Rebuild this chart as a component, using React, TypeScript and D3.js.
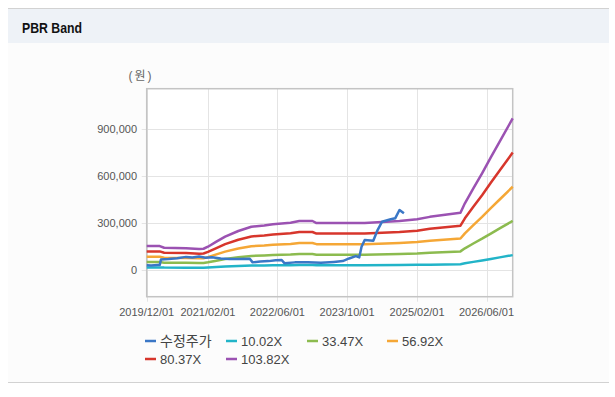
import React, { useEffect, useRef } from 'react';
import * as d3 from 'd3';

// band dates (BPS change points) and band values per multiple
const bandDates = [
  '2019-12-01', '2020-03-01', '2020-04-01', '2020-09-01', '2020-12-01', '2021-01-01',
  '2021-02-01', '2021-04-01', '2021-06-01', '2021-09-01', '2021-12-01', '2022-03-01',
  '2022-05-01', '2022-09-01', '2022-11-01', '2023-02-01', '2023-03-01', '2024-02-01',
  '2024-10-01', '2025-02-01', '2025-05-01', '2025-12-01', '2026-01-01', '2026-03-01',
  '2026-05-01', '2026-07-01', '2026-09-01', '2026-12-01'
];
const band10 = [
  14600, 14600, 13500, 13200, 12800, 12900, 14200, 17300, 20300, 23800, 26500, 27300,
  28000, 29000, 30000, 30000, 28800, 28800, 30000, 31100, 32600, 35100, 40900, 50100,
  59300, 69100, 78900, 93200
];
const band33 = [
  48700, 48700, 45200, 44200, 42700, 43200, 47400, 57700, 67900, 79700, 88400, 91000,
  93500, 96700, 100200, 100200, 96100, 96100, 100200, 103800, 108800, 117100, 136600, 167400,
  198100, 230900, 263400, 311300
];
const band56 = [
  82800, 82800, 76800, 75100, 72600, 73400, 80500, 98200, 115500, 135500, 150300, 154800,
  159100, 164500, 170500, 170500, 163400, 163400, 170500, 176500, 185000, 199200, 232200, 284600,
  337000, 392700, 448000, 529400
];
const band80 = [
  116900, 116900, 108500, 106100, 102500, 103700, 113700, 138600, 163200, 191300, 212200, 218600,
  224600, 232300, 240700, 240700, 230700, 230700, 240700, 249100, 261200, 281300, 327900, 401900,
  475800, 554600, 632500, 747400
];
const band103 = [
  151100, 151100, 140200, 137000, 132400, 133900, 146900, 179100, 210800, 247100, 274100, 282400,
  290200, 300000, 310900, 310900, 298000, 298000, 310900, 321800, 337400, 363400, 423600, 519100,
  614600, 716400, 817100, 965500
];

// adjusted stock price
const stockDates = [
  '2019-12-01', '2020-01-01', '2020-02-15', '2020-03-01', '2020-03-10', '2020-05-01',
  '2020-07-01', '2020-09-01', '2020-10-15', '2020-12-01', '2021-01-15', '2021-03-01',
  '2021-05-01', '2021-07-01', '2021-09-01', '2021-11-20', '2021-12-10', '2022-02-01',
  '2022-04-01', '2022-05-20', '2022-07-01', '2022-07-20', '2022-10-01', '2023-01-01',
  '2023-04-01', '2023-07-01', '2023-09-01', '2023-10-15', '2023-12-01', '2023-12-25',
  '2024-01-10', '2024-02-01', '2024-04-01', '2024-05-01', '2024-06-01', '2024-08-01',
  '2024-09-01', '2024-10-01', '2024-11-01'
];
const stockPrices = [
  28000, 27000, 30000, 30000, 66000, 68000,
  74000, 82000, 78000, 84000, 77000, 80000,
  72000, 68000, 69000, 70000, 47000, 52000,
  55000, 60000, 62000, 42000, 47000, 48000,
  44000, 50000, 55000, 72000, 87000, 79000,
  147000, 190000, 185000, 253000, 306000, 322000,
  328000, 381000, 360000
];

const seriesNames = ['수정주가', '10.02X', '33.47X', '56.92X', '80.37X', '103.82X'];
const seriesColors = ['#3a77c6', '#22b4c8', '#8cbb4f', '#f5a736', '#d7362c', '#9b52b2'];
const xTickDates = ['2019-12-01', '2021-02-01', '2022-06-01', '2023-10-01', '2025-02-01', '2026-06-01'];
const yTicks = [0, 300000, 600000, 900000];

const FONT = '"Liberation Sans", Arial, "Noto Sans CJK KR", sans-serif';

const App: React.FC = () => {
  const svgRef = useRef<SVGSVGElement>(null);

  useEffect(() => {
    if (!svgRef.current) return;
    const svg = d3.select(svgRef.current);
    svg.selectAll('*').remove();

    const parse = d3.timeParse('%Y-%m-%d');
    const fmt = d3.timeFormat('%Y/%m/%d');

    // panel frame
    svg.append('rect').attr('x', 8).attr('y', 9).attr('width', 601).attr('height', 34).attr('fill', '#eef2f7');
    svg.append('rect').attr('x', 8).attr('y', 43).attr('width', 601).attr('height', 339).attr('fill', '#fcfcfc');
    svg.append('line').attr('x1', 8).attr('x2', 609).attr('y1', 8.5).attr('y2', 8.5).attr('stroke', '#d2d2d2');
    svg.append('line').attr('x1', 8).attr('x2', 609).attr('y1', 382.5).attr('y2', 382.5).attr('stroke', '#d2d2d2');
    svg.append('text')
      .attr('x', 22).attr('y', 33)
      .attr('textLength', 60).attr('lengthAdjust', 'spacingAndGlyphs')
      .style('font-family', FONT).style('font-size', '14px').style('font-weight', 'bold')
      .attr('fill', '#111')
      .text('PBR Band');

    const left = 146.7, right = 512.7, top = 88.7, bottom = 296.7;

    const x = d3.scaleTime()
      .domain([parse('2019-12-01')!, parse('2026-12-01')!])
      .range([left, right]);
    const y = d3.scaleLinear()
      .domain([-172000, 1155000])
      .range([bottom, top]);

    // plot background
    svg.append('rect').attr('x', left).attr('y', top).attr('width', right - left).attr('height', bottom - top).attr('fill', '#fff');

    // grid
    const xt = xTickDates.map(d => parse(d)!);
    svg.append('g').selectAll('line').data(xt).join('line')
      .attr('x1', d => Math.round(x(d)) + 0.5).attr('x2', d => Math.round(x(d)) + 0.5)
      .attr('y1', top).attr('y2', bottom + 5)
      .attr('stroke', '#e4e4e4');
    svg.append('g').selectAll('line').data(yTicks).join('line')
      .attr('x1', left - 5).attr('x2', right)
      .attr('y1', d => Math.round(y(d)) + 0.5).attr('y2', d => Math.round(y(d)) + 0.5)
      .attr('stroke', '#e4e4e4');

    // border
    svg.append('rect')
      .attr('x', left).attr('y', top).attr('width', right - left).attr('height', bottom - top)
      .attr('fill', 'none').attr('stroke', '#c4c4c4').attr('stroke-width', 1.5);

    // tick labels
    svg.append('g').selectAll('text').data(xt).join('text')
      .attr('x', d => x(d)).attr('y', 316)
      .attr('text-anchor', 'middle')
      .style('font-family', FONT).style('font-size', '11px')
      .attr('fill', '#555')
      .text(d => fmt(d));
    svg.append('g').selectAll('text').data(yTicks).join('text')
      .attr('x', 137).attr('y', d => y(d) + 4)
      .attr('text-anchor', 'end')
      .style('font-family', FONT).style('font-size', '11px')
      .attr('fill', '#555')
      .text(d => d3.format(',')(d));
    svg.append('text')
      .attr('x', 141).attr('y', 80)
      .attr('text-anchor', 'middle')
      .style('font-family', FONT).style('font-size', '12px').style('letter-spacing', '2px')
      .attr('fill', '#666')
      .text('(원)');

    // series
    const bd = bandDates.map(d => parse(d)!);
    const bands = [band10, band33, band56, band80, band103];
    const line = d3.line<[Date, number]>()
      .x(d => x(d[0]))
      .y(d => y(d[1]));

    bands.forEach((vals, i) => {
      svg.append('path')
        .datum(bd.map((d, j) => [d, vals[j]] as [Date, number]))
        .attr('fill', 'none')
        .attr('stroke', seriesColors[i + 1])
        .attr('stroke-width', 2.5)
        .attr('stroke-linejoin', 'round')
        .attr('d', line);
    });

    svg.append('path')
      .datum(stockDates.map((d, j) => [parse(d)!, stockPrices[j]] as [Date, number]))
      .attr('fill', 'none')
      .attr('stroke', seriesColors[0])
      .attr('stroke-width', 2.5)
      .attr('stroke-linejoin', 'round')
      .attr('d', line);

    // legend
    const legendPos = [
      [145, 341], [226, 341], [307, 341], [387, 341],
      [145, 359], [226, 359]
    ];
    const lg = svg.append('g');
    seriesNames.forEach((name, i) => {
      const [lx, ly] = legendPos[i];
      lg.append('line')
        .attr('x1', lx).attr('x2', lx + 11)
        .attr('y1', ly).attr('y2', ly)
        .attr('stroke', seriesColors[i]).attr('stroke-width', 2.5);
      lg.append('text')
        .attr('x', lx + 15).attr('y', ly + 4.5)
        .style('font-family', FONT).style('font-size', i === 0 ? '14px' : '13px')
        .attr('fill', '#444')
        .text(name);
    });
  }, []);

  return (
    <div style={{ position: 'fixed', left: 0, top: 0 }}>
      <svg ref={svgRef} width={615} height={397} style={{ display: 'block' }} />
    </div>
  );
};

export default App;
